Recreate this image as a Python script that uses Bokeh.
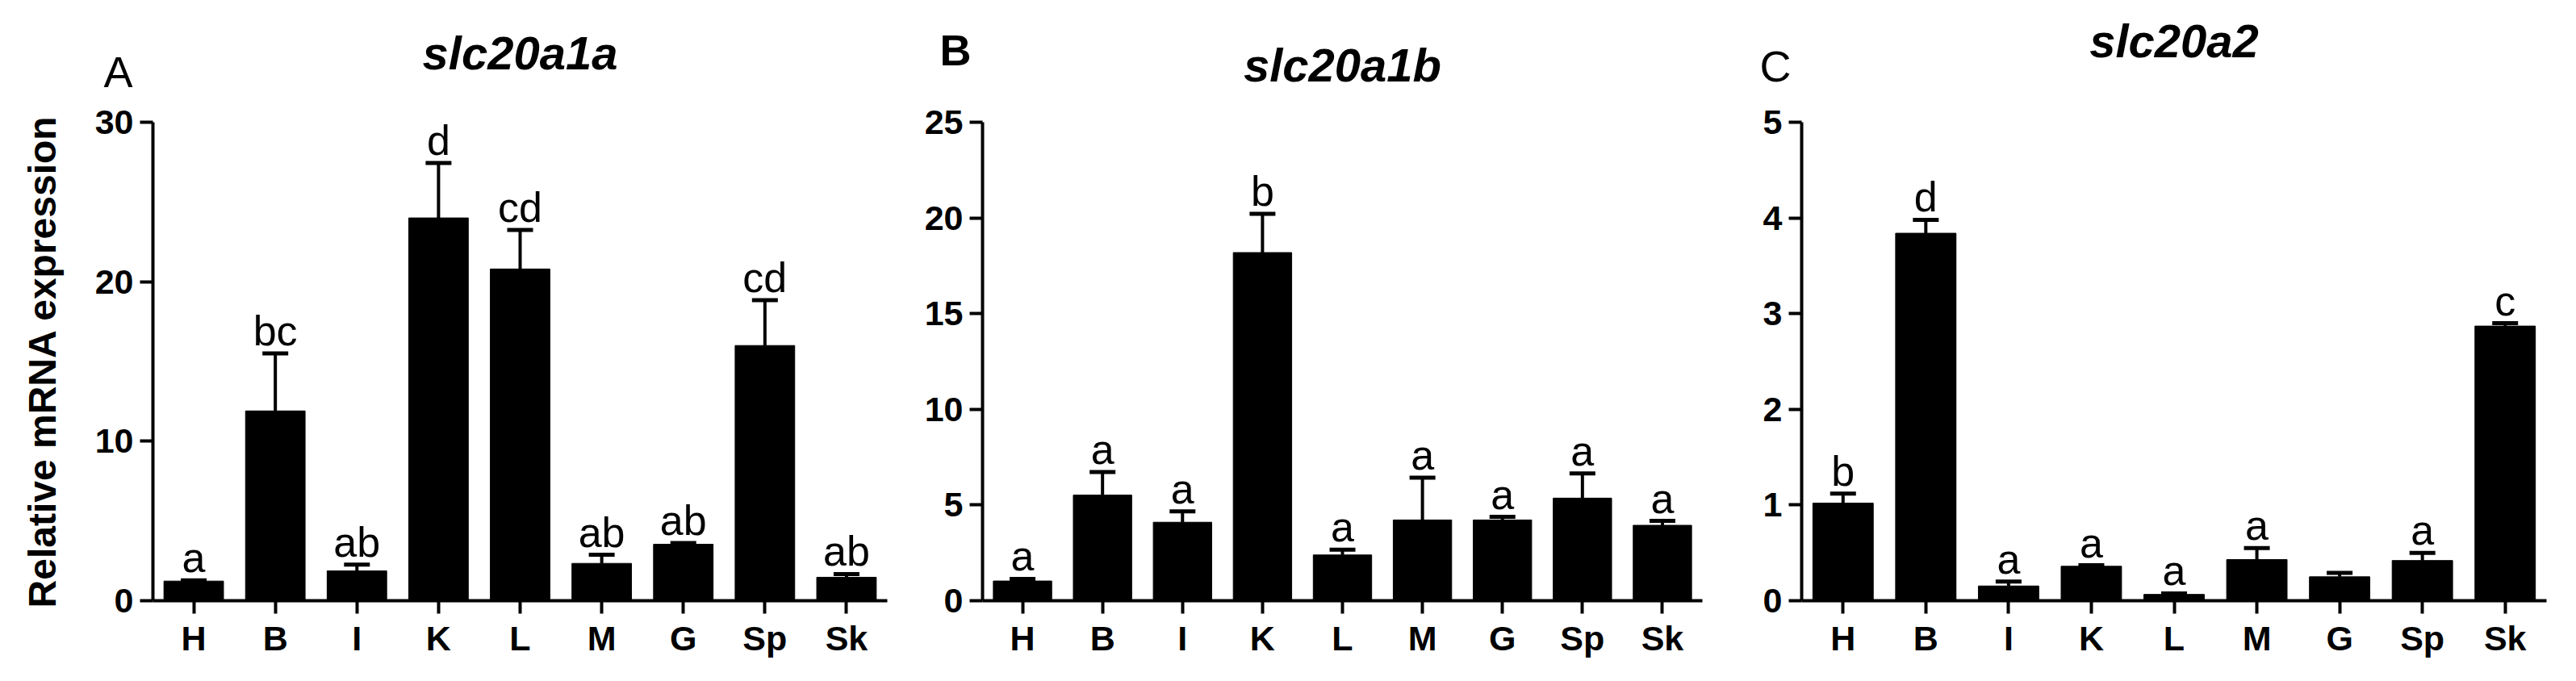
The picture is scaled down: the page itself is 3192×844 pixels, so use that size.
from bokeh.plotting import figure
from bokeh.layouts import row
from bokeh.models import (ColumnDataSource, Whisker, TeeHead, LabelSet, Label,
                          FixedTicker, Range1d)
from bokeh.core.properties import value
from bokeh.embed import file_html
from bokeh.resources import INLINE

# ---------------- data ----------------
tissues = ["H", "B", "I", "K", "L", "M", "G", "Sp", "Sk"]

a_gene = "slc20a1a"
a_mean = [1.23, 11.9, 1.87, 24.0, 20.8, 2.34, 3.54, 16.0, 1.47]
a_sem = [0.05, 3.6, 0.39, 3.45, 2.45, 0.54, 0.08, 2.85, 0.2]
a_letters = ["a", "bc", "ab", "d", "cd", "ab", "ab", "cd", "ab"]
a_ticks = [0, 10, 20, 30]

b_gene = "slc20a1b"
b_mean = [1.03, 5.52, 4.10, 18.19, 2.39, 4.22, 4.22, 5.36, 3.94]
b_sem = [0.11, 1.2, 0.57, 2.02, 0.28, 2.21, 0.16, 1.29, 0.23]
b_letters = ["a", "a", "a", "b", "a", "a", "a", "a", "a"]
b_ticks = [0, 5, 10, 15, 20, 25]

c_gene = "slc20a2"
c_mean = [1.02, 3.84, 0.154, 0.36, 0.066, 0.43, 0.25, 0.42, 2.87]
c_sem = [0.10, 0.14, 0.046, 0.01, 0.01, 0.12, 0.04, 0.08, 0.03]
c_letters = ["b", "d", "a", "a", "a", "a", "", "a", "c"]
c_ticks = [0, 1, 2, 3, 4, 5]

y_label = "Relative mRNA expression"
FONT = "Liberation Sans"
H = 828
BOTTOM = 84


def panel(gene, tag, tag_style, means, sems, letters, ticks, width, bl, br, bt,
          title_y, tag_x, tag_y, ylabel=None):
    upper = [m + s for m, s in zip(means, sems)]
    src = ColumnDataSource(dict(t=tissues, m=means, lo=means, up=upper, lab=letters))
    p = figure(x_range=tissues, y_range=Range1d(ticks[0], ticks[-1]),
               width=width, height=H, output_backend="svg", toolbar_location=None,
               min_border_left=bl, min_border_right=br, min_border_top=bt,
               min_border_bottom=BOTTOM)
    p.vbar(x="t", top="m", width=0.73, source=src, fill_color="black",
           line_color="black", line_width=1)
    w = Whisker(base="t", lower="lo", upper="up", source=src, line_width=4,
                line_color="black", lower_head=None,
                upper_head=TeeHead(size=32, line_width=5, line_color="black"),
                level="annotation")
    p.add_layout(w)
    p.add_layout(LabelSet(x="t", y="up", text="lab", source=src, text_align="center",
                          text_baseline="alphabetic", y_offset=10,
                          text_font_size=value("52px"), text_font=value(FONT),
                          text_color="black"))
    p.grid.visible = False
    p.outline_line_color = None
    p.background_fill_color = "white"
    p.border_fill_color = "white"
    for ax in p.axis:
        ax.axis_line_width = 4
        ax.axis_line_color = "black"
        ax.major_tick_line_width = 4
        ax.major_tick_line_color = "black"
        ax.major_tick_in = 0
        ax.major_tick_out = 16
        ax.minor_tick_line_color = None
        ax.major_label_text_font = FONT
        ax.major_label_text_font_style = "bold"
        ax.major_label_text_font_size = "43px"
        ax.major_label_text_color = "black"
    p.yaxis.ticker = FixedTicker(ticks=ticks)
    p.yaxis.major_label_standoff = 8
    p.xaxis.major_label_standoff = 6
    if ylabel:
        p.yaxis.axis_label = ylabel
        p.yaxis.axis_label_text_font = FONT
        p.yaxis.axis_label_text_font_style = "bold"
        p.yaxis.axis_label_text_font_size = "48px"
        p.yaxis.axis_label_text_color = "black"
        p.yaxis.axis_label_standoff = 36
    frame_w = width - bl - br
    p.add_layout(Label(x=frame_w / 2, y=title_y, x_units="screen", y_units="screen",
                       text=gene, text_align="center", text_baseline="alphabetic",
                       text_font=FONT, text_font_style="bold italic",
                       text_font_size="58px", text_color="black"), "above")
    p.add_layout(Label(x=tag_x, y=tag_y, x_units="screen", y_units="screen",
                       text=tag, text_align="left", text_baseline="alphabetic",
                       text_font=FONT, text_font_style=tag_style,
                       text_font_size="54px", text_color="black"), "above")
    return p


pa = panel(a_gene, "A", "normal", a_mean, a_sem, a_letters, a_ticks,
           1132, 189, 33, 140, 86, -61, -2, ylabel=y_label)
pb = panel(b_gene, "B", "bold", b_mean, b_sem, b_letters, b_ticks,
           1020, 85, 43, 151, 71, -53, 25)
pc = panel(c_gene, "C", "normal", c_mean, c_sem, c_letters, c_ticks,
           1024, 80, 21, 129, 101, -52, 5)

layout = row(pa, pb, pc, spacing=0)
open("out.html", "w").write(file_html(layout, INLINE))
